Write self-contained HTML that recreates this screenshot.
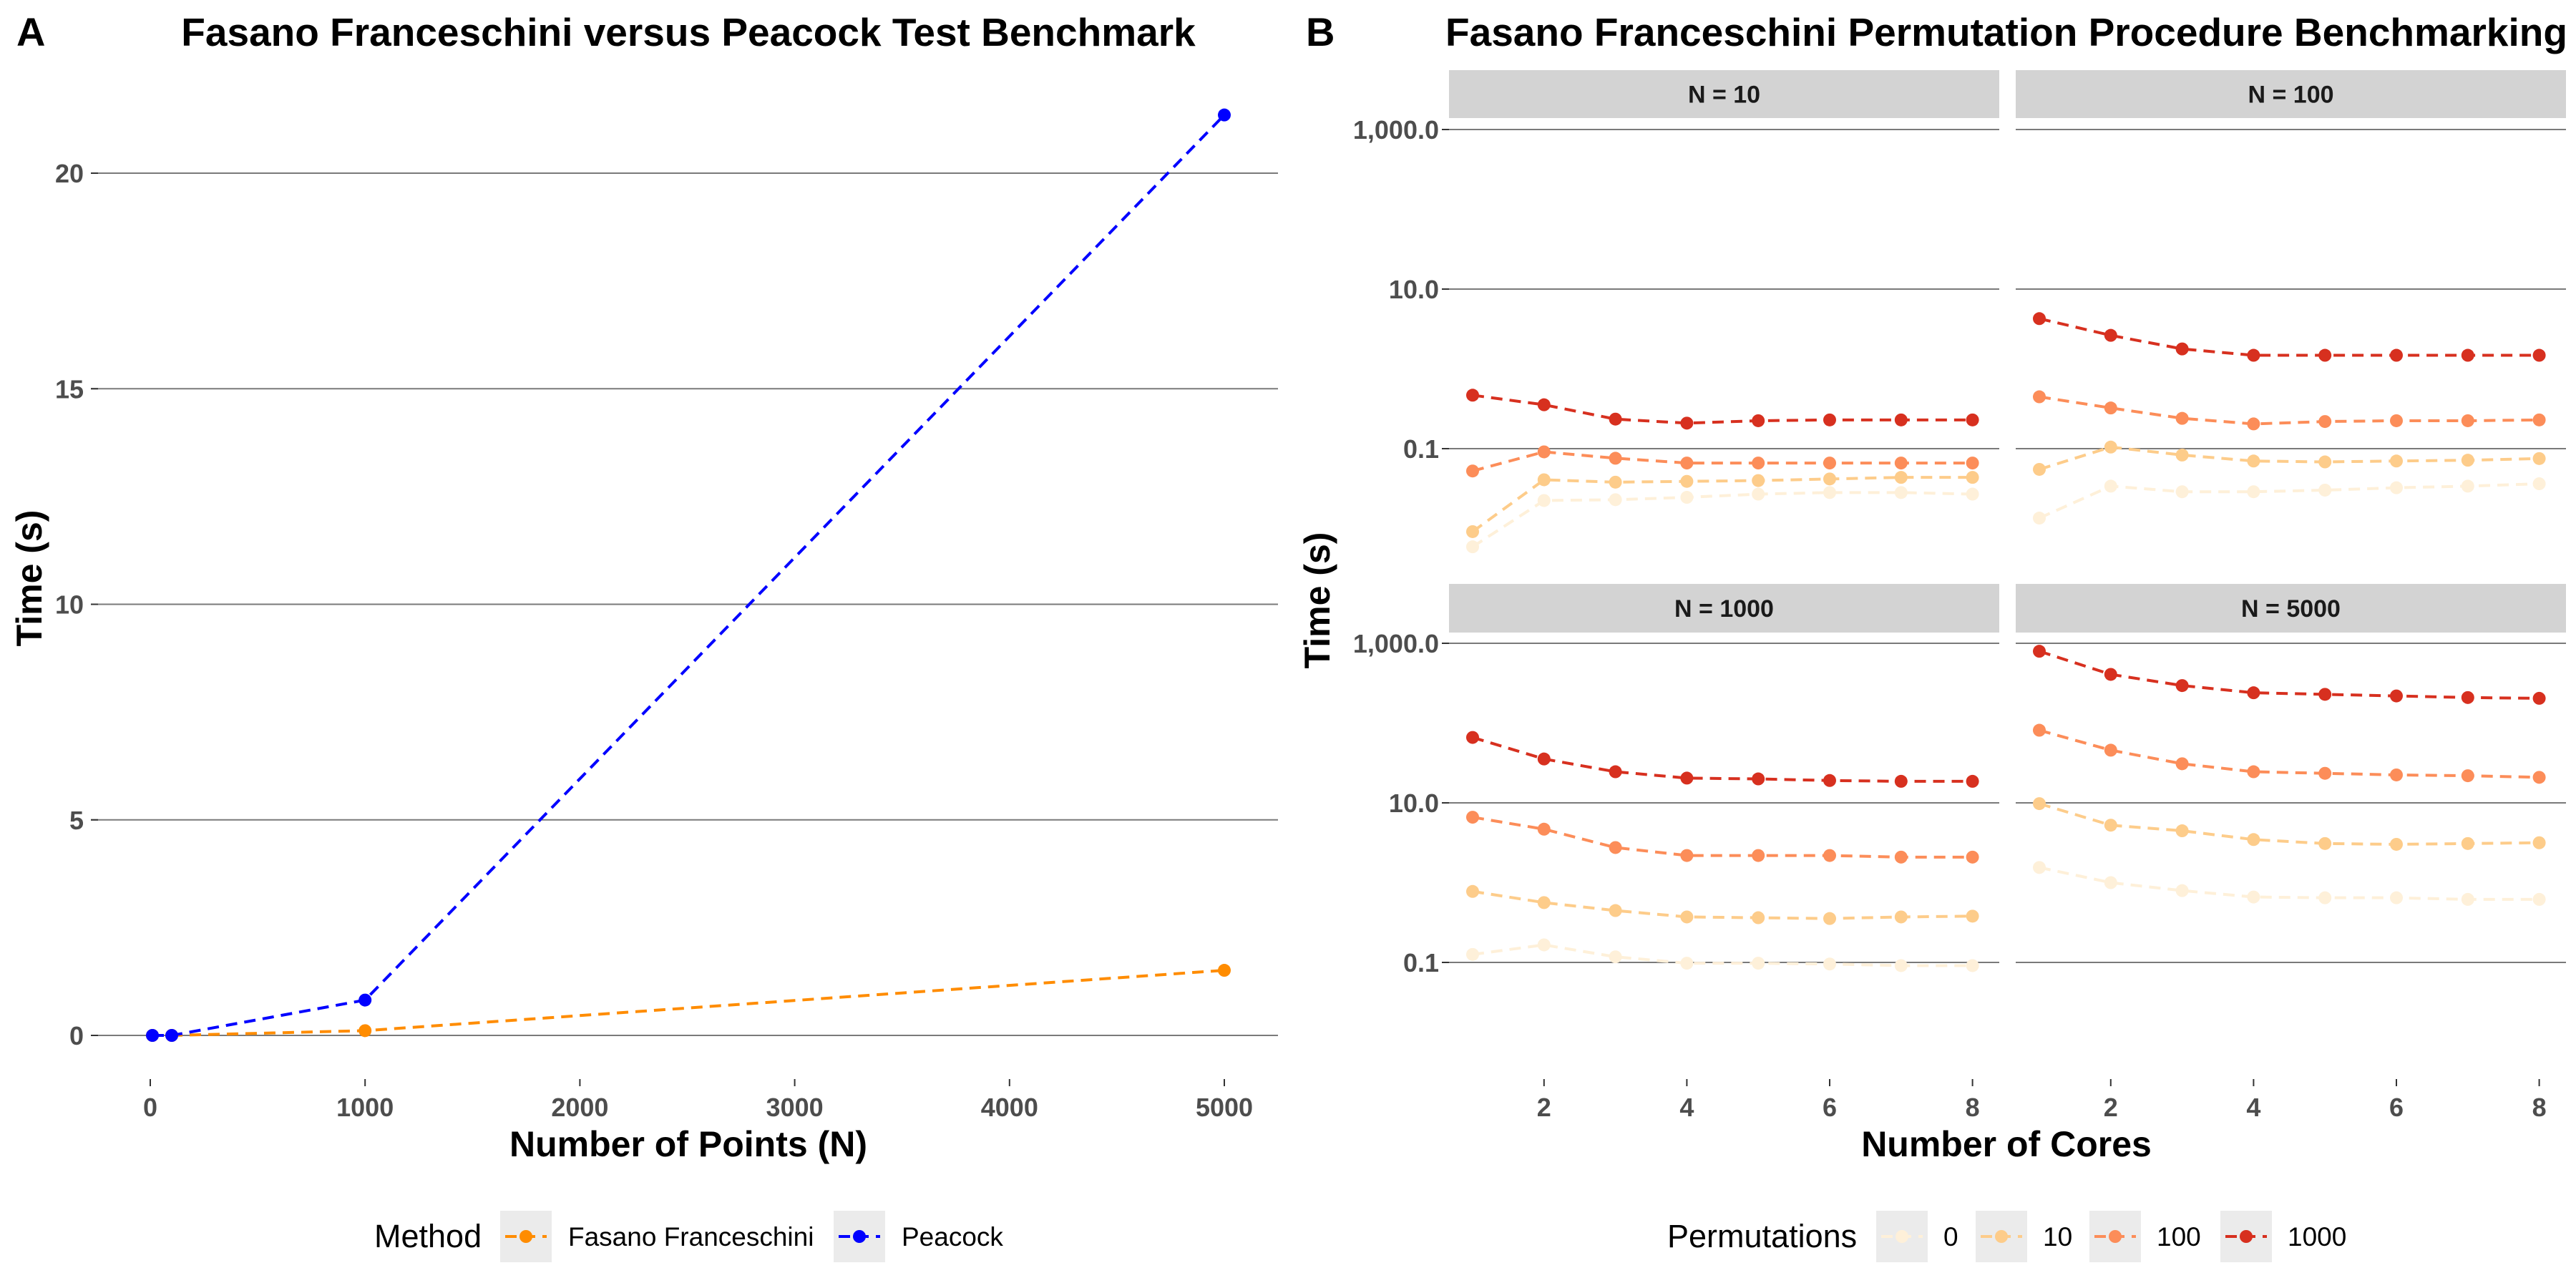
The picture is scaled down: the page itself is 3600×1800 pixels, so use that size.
<!DOCTYPE html>
<html><head><meta charset="utf-8"><style>
html,body{margin:0;padding:0;background:#fff;}
svg{display:block;font-family:"Liberation Sans",Arial,sans-serif;}
</style></head><body>
<svg id="fig" width="3600" height="1800" viewBox="0 0 3600 1800" xmlns="http://www.w3.org/2000/svg"></svg>
<script>
// Panel A data
const aSizes = [10, 100, 1000, 5000];
const aPeacock = [0, 0, 0.82, 21.35];
const aFasano = [0, 0, 0.11, 1.51];
const aYTicks = [0, 5, 10, 15, 20];
const aXTicks = [0, 1000, 2000, 3000, 4000, 5000];
// Panel B data (log10 of seconds), cores 1..8
const cores = [1, 2, 3, 4, 5, 6, 7, 8];
const facetNames = ["N = 10", "N = 100", "N = 1000", "N = 5000"];
const permLabels = ["0", "10", "100", "1000"];
const permColors = ["#FEF0D9", "#FDCC8A", "#FC8D59", "#D7301F"];
const n10 = [
  [-2.23,-1.65,-1.64,-1.61,-1.57,-1.55,-1.55,-1.57],
  [-2.04,-1.39,-1.42,-1.41,-1.40,-1.38,-1.36,-1.36],
  [-1.28,-1.04,-1.12,-1.18,-1.18,-1.18,-1.18,-1.18],
  [-0.33,-0.45,-0.63,-0.68,-0.65,-0.64,-0.64,-0.64]];
const n100 = [
  [-1.87,-1.47,-1.54,-1.54,-1.52,-1.49,-1.47,-1.44],
  [-1.26,-0.98,-1.08,-1.155,-1.166,-1.155,-1.145,-1.124],
  [-0.35,-0.49,-0.62,-0.69,-0.66,-0.65,-0.65,-0.64],
  [0.63,0.42,0.25,0.17,0.17,0.17,0.17,0.17]];
const n1000 = [
  [-0.90,-0.78,-0.93,-1.01,-1.01,-1.02,-1.04,-1.04],
  [-0.11,-0.25,-0.35,-0.43,-0.44,-0.45,-0.43,-0.42],
  [0.82,0.67,0.44,0.34,0.34,0.34,0.32,0.32],
  [1.82,1.55,1.39,1.31,1.30,1.28,1.27,1.27]];
const n5000 = [
  [0.19,0.00,-0.10,-0.18,-0.19,-0.19,-0.21,-0.21],
  [0.99,0.72,0.65,0.54,0.49,0.48,0.49,0.50],
  [1.91,1.66,1.49,1.39,1.37,1.35,1.34,1.32],
  [2.90,2.61,2.47,2.38,2.36,2.34,2.32,2.31]];
const bYTicks = [-1, 1, 3];
const bYTickLabels = ["0.1", "10.0", "1,000.0"];
const bXTicks = [2, 4, 6, 8];

const NS = "http://www.w3.org/2000/svg";
const svg = document.getElementById("fig");
function mk(tag, attrs, parent, text) {
  const e = document.createElementNS(NS, tag);
  for (const k in attrs) e.setAttribute(k, attrs[k]);
  if (text !== undefined) e.textContent = text;
  (parent || svg).appendChild(e);
  return e;
}

// ---------- Panel A ----------
const gA = mk("g", {});


const axX = v => 210 + (v / 5000) * 1501;
const axY = v => 1447 - v * 60.25;
const tA = mk("text", {x: 23, y: 64, "font-size": 56, "font-weight": "bold"}, gA, "A");


const titA = mk("text", {x: 962, y: 64, "font-size": 55, "font-weight": "bold", "text-anchor": "middle"}, gA, "Fasano Franceschini versus Peacock Test Benchmark");


aYTicks.forEach(v => {
  const l = mk("line", {x1: 127, x2: 1786, y1: axY(v), y2: axY(v), stroke: "#7a7a7a", "stroke-width": 2}, gA);
  
  
  mk("line", {x1: 127, x2: 137, y1: axY(v), y2: axY(v), stroke: "#333", "stroke-width": 2}, gA);
  const t = mk("text", {x: 117, y: axY(v) + 13, "font-size": 36, "font-weight": "bold", fill: "#4d4d4d", "text-anchor": "end"}, gA, String(v));
  
  
});
aXTicks.forEach(v => {
  mk("line", {x1: axX(v), x2: axX(v), y1: 1508, y2: 1518, stroke: "#333", "stroke-width": 2}, gA);
  const t = mk("text", {x: axX(v), y: 1560, "font-size": 36, "font-weight": "bold", fill: "#4d4d4d", "text-anchor": "middle"}, gA, String(v));
  
  
});
const xtA = mk("text", {x: 962, y: 1616, "font-size": 50, "font-weight": "bold", "text-anchor": "middle"}, gA, "Number of Points (N)");


const ytA = mk("text", {x: 0, y: 0, "font-size": 50, "font-weight": "bold", "text-anchor": "middle", transform: "translate(58,808) rotate(-90)"}, gA, "Time (s)");


function seriesA(vals, color, name) {
  const pts = aSizes.map((s, i) => axX(s) + "," + axY(vals[i])).join(" ");
  const pl = mk("polyline", {points: pts, fill: "none", stroke: color, "stroke-width": 4, "stroke-dasharray": "16,10"}, gA);
  
  
  aSizes.forEach((s, i) => {
    const c = mk("circle", {cx: axX(s), cy: axY(vals[i]), r: 9, fill: color}, gA);
    
    
  });
}
seriesA(aFasano, "#FF8C00", "fasano");
seriesA(aPeacock, "#0000FF", "peacock");
// legend A
const lgA = mk("g", {}, gA);


mk("text", {x: 523, y: 1743, "font-size": 45}, lgA, "Method");
[[699, "#FF8C00", "Fasano Franceschini", 794], [1165, "#0000FF", "Peacock", 1260]].forEach(k => {
  const ge = mk("g", {}, lgA);
  
  
  mk("rect", {x: k[0], y: 1692, width: 72, height: 72, fill: "#ebebeb"}, ge);
  mk("line", {x1: k[0] + 7, x2: k[0] + 65, y1: 1728, y2: 1728, stroke: k[1], "stroke-width": 4, "stroke-dasharray": "16,10"}, ge);
  mk("circle", {cx: k[0] + 36, cy: 1728, r: 9, fill: k[1]}, ge);
  mk("text", {x: k[3], y: 1741, "font-size": 37}, ge, k[2]);
});

// ---------- Panel B ----------
const gB = mk("g", {});


const tB = mk("text", {x: 1825, y: 64, "font-size": 56, "font-weight": "bold"}, gB, "B");


const titB = mk("text", {x: 2804, y: 64, "font-size": 55, "font-weight": "bold", "text-anchor": "middle"}, gB, "Fasano Franceschini Permutation Procedure Benchmarking");


const facets = [
  {data: n10, x0: 2025, x1: 2794, stripTop: 98, top: 165, bottom: 805, c1: 2058, dec0: 627},
  {data: n100, x0: 2817, x1: 3586, stripTop: 98, top: 165, bottom: 805, c1: 2850, dec0: 627},
  {data: n1000, x0: 2025, x1: 2794, stripTop: 816, top: 884, bottom: 1485, c1: 2058, dec0: 1345},
  {data: n5000, x0: 2817, x1: 3586, stripTop: 816, top: 884, bottom: 1485, c1: 2850, dec0: 1345}];
facets.forEach((f, fi) => {
  const gf = mk("g", {}, gB);
  
  
  const px = c => f.c1 + (c - 1) * 99.8;
  const py = lv => f.dec0 - (lv + 1) * 111.5;
  const st = mk("rect", {x: f.x0, y: f.stripTop, width: f.x1 - f.x0, height: f.top - f.stripTop, fill: "#d3d3d3"}, gf);
  
  
  mk("text", {x: (f.x0 + f.x1) / 2, y: (f.stripTop + f.top) / 2 + 12, "font-size": 34, "font-weight": "bold", fill: "#1a1a1a", "text-anchor": "middle"}, gf, facetNames[fi]);
  bYTicks.forEach((v, i) => {
    const l = mk("line", {x1: f.x0, x2: f.x1, y1: py(v), y2: py(v), stroke: "#7a7a7a", "stroke-width": 2}, gf);
    
    
    if (fi % 2 === 0) {
      mk("line", {x1: f.x0 - 10, x2: f.x0, y1: py(v), y2: py(v), stroke: "#333", "stroke-width": 2}, gf);
      const t = mk("text", {x: f.x0 - 14, y: py(v) + 13, "font-size": 36, "font-weight": "bold", fill: "#4d4d4d", "text-anchor": "end"}, gf, bYTickLabels[i]);
      
      
    }
  });
  if (fi >= 2) {
    bXTicks.forEach(c => {
      mk("line", {x1: px(c), x2: px(c), y1: 1508, y2: 1518, stroke: "#333", "stroke-width": 2}, gf);
      const t = mk("text", {x: px(c), y: 1560, "font-size": 36, "font-weight": "bold", fill: "#4d4d4d", "text-anchor": "middle"}, gf, String(c));
      
      
    });
  }
  f.data.forEach((vals, si) => {
    const pts = cores.map((c, i) => px(c) + "," + py(vals[i])).join(" ");
    const pl = mk("polyline", {points: pts, fill: "none", stroke: permColors[si], "stroke-width": 4, "stroke-dasharray": "16,10"}, gf);
    
    
    cores.forEach((c, i) => {
      const p = mk("circle", {cx: px(c), cy: py(vals[i]), r: 9, fill: permColors[si]}, gf);
      
      
    });
  });
});
const xtB = mk("text", {x: 2804, y: 1616, "font-size": 50, "font-weight": "bold", "text-anchor": "middle"}, gB, "Number of Cores");


const ytB = mk("text", {x: 0, y: 0, "font-size": 50, "font-weight": "bold", "text-anchor": "middle", transform: "translate(1858,839) rotate(-90)"}, gB, "Time (s)");


const lgB = mk("g", {}, gB);


mk("text", {x: 2330, y: 1743, "font-size": 45}, lgB, "Permutations");
const keyX = [2622, 2761, 2920, 3103];
permLabels.forEach((lab, i) => {
  const ge = mk("g", {}, lgB);
  
  
  mk("rect", {x: keyX[i], y: 1692, width: 72, height: 72, fill: "#ebebeb"}, ge);
  mk("line", {x1: keyX[i] + 7, x2: keyX[i] + 65, y1: 1728, y2: 1728, stroke: permColors[i], "stroke-width": 4, "stroke-dasharray": "16,10"}, ge);
  mk("circle", {cx: keyX[i] + 36, cy: 1728, r: 9, fill: permColors[i]}, ge);
  mk("text", {x: keyX[i] + 94, y: 1741, "font-size": 37}, ge, lab);
});
</script>
</body></html>
